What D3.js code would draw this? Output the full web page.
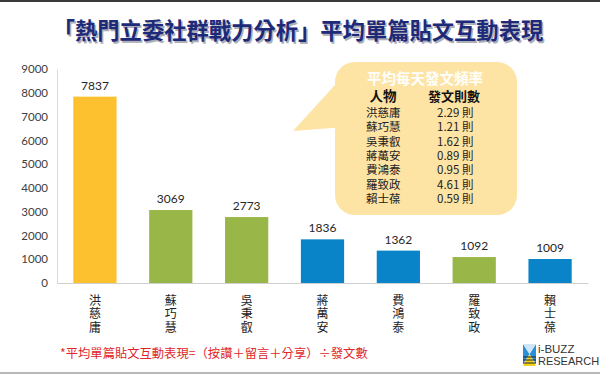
<!DOCTYPE html>
<html><head><meta charset="utf-8">
<script src="https://cdn.jsdelivr.net/npm/d3@7"></script>
<style>
body{margin:0;background:#fff;}
svg{display:block;}
</style></head>
<body>
<svg id="c" width="600" height="375"></svg>
<script>
const names = ["洪慈庸","蘇巧慧","吳秉叡","蔣萬安","費鴻泰","羅致政","賴士葆"];
const interactions = [7837,3069,2773,1836,1362,1092,1009];
const parties = ["時代力量","民進黨","民進黨","國民黨","國民黨","民進黨","國民黨"];
const dailyPosts = [2.29,1.21,1.62,0.89,0.95,4.61,0.59];
const yTicks = [0,1000,2000,3000,4000,5000,6000,7000,8000,9000];
const partyColors = {"時代力量":"#fdc02f","民進黨":"#98b748","國民黨":"#0a84c8"};

const svg = d3.select("#c");
const cjk = "'Noto Sans CJK TC','Noto Sans CJK SC',sans-serif";
const num = "Lato,'Open Sans',sans-serif";

// frame lines
svg.append("rect").attr("x",0).attr("y",0).attr("width",600).attr("height",2).attr("fill","#3a3a3a");
svg.append("rect").attr("x",0).attr("y",372).attr("width",600).attr("height",2).attr("fill","#b8b8b8");

// title with shadow
const title = "「熱門立委社群戰力分析」平均單篇貼文互動表現";
svg.append("text").attr("x",299.5).attr("y",40.5).attr("text-anchor","middle")
  .attr("font-family",cjk).attr("font-weight","bold").attr("font-size",22.3)
  .attr("fill","#9a9aa8").attr("opacity",0.8).text(title);
svg.append("text").attr("x",298).attr("y",39).attr("text-anchor","middle")
  .attr("font-family",cjk).attr("font-weight","bold").attr("font-size",22.3)
  .attr("fill","#1d2a7a").text(title);

const x = d3.scaleBand().domain(names).range([57,588]).paddingInner(0.43).paddingOuter(0.215);
const y = d3.scaleLinear().domain([0,9000]).range([283,69]);

// y axis
const ya = svg.append("g").attr("transform","translate(57,0)")
  .call(d3.axisLeft(y).tickValues(yTicks).tickSize(0).tickPadding(9).tickFormat(d3.format("d")));
ya.select(".domain").attr("stroke","#d9d9d9");
ya.selectAll("text").attr("font-family",num).attr("font-size",11.5).attr("fill","#404040");

// bars
svg.append("g").selectAll("rect").data(names).join("rect")
  .attr("x",d=>x(d)).attr("width",x.bandwidth())
  .attr("y",(d,i)=>y(interactions[i])).attr("height",(d,i)=>y(0)-y(interactions[i]))
  .attr("fill",(d,i)=>partyColors[parties[i]]);

// baseline / x axis
const xa = svg.append("g").attr("transform","translate(0,283)")
  .call(d3.axisBottom(x).tickSize(0).tickFormat(""));
xa.select(".domain").attr("stroke","#d0d0d0").attr("stroke-width",1.2);

// value labels
svg.append("g").selectAll("text").data(names).join("text")
  .attr("x",d=>x(d)+x.bandwidth()/2).attr("y",(d,i)=>y(interactions[i])-7)
  .attr("text-anchor","middle").attr("font-family",num).attr("font-size",12).attr("fill","#262626")
  .text((d,i)=>interactions[i]);

// vertical category labels
svg.append("g").selectAll("text").data(names).join("text")
  .attr("x",d=>x(d)+x.bandwidth()/2).attr("y",294)
  .style("writing-mode","vertical-rl").style("letter-spacing","1.8px")
  .attr("font-family",cjk).attr("font-size",12).attr("fill","#222").text(d=>d);

// callout bubble
const bub = svg.append("g");
bub.append("path").attr("d","M293,131 L345,74 L345,127 Z").attr("fill","#fde4a5");
bub.append("rect").attr("x",335).attr("y",62).attr("width",182).attr("height",153).attr("rx",20).attr("fill","#fde4a5");
bub.append("text").attr("x",425).attr("y",83.5).attr("text-anchor","middle")
  .attr("font-family",cjk).attr("font-weight","bold").attr("font-size",14.5).attr("fill","#fff").text("平均每天發文頻率");
bub.append("text").attr("x",383).attr("y",101).attr("text-anchor","middle")
  .attr("font-family",cjk).attr("font-weight","bold").attr("font-size",13.5).attr("fill","#111").text("人物");
bub.append("text").attr("x",454).attr("y",101).attr("text-anchor","middle")
  .attr("font-family",cjk).attr("font-weight","bold").attr("font-size",13).attr("fill","#111").text("發文則數");
const rowStep = 14.33;
const nameCol = bub.append("text").attr("x",366).attr("y",117).attr("font-family",cjk).attr("font-size",11.5).attr("fill","#222");
nameCol.selectAll("tspan").data(names).join("tspan").attr("x",366).attr("dy",(d,i)=>i?rowStep:0).text(d=>d);
const valCol = bub.append("text").attr("x",437).attr("y",117).attr("font-family",cjk).attr("font-size",11.5).attr("fill","#222");
valCol.selectAll("tspan").data(dailyPosts).join("tspan").attr("x",437).attr("dy",(d,i)=>i?rowStep:0).text(d=>d.toFixed(2)+" 則");

// footnote
svg.append("text").attr("x",60).attr("y",358).attr("font-family",cjk).attr("font-size",12.3).attr("fill","#e0262a")
  .text("*平均單篇貼文互動表現=（按讚＋留言＋分享）÷發文數");

// logo
const lg = svg.append("g").attr("transform","translate(523,342)");
lg.append("rect").attr("x",0).attr("y",0).attr("width",13).attr("height",24).attr("fill","#fff");
lg.append("path").attr("d","M0,2 L6.5,12 L0,22 Z").attr("fill","#2a8fd6");
lg.append("path").attr("d","M13,2 L6.5,12 L13,22 Z").attr("fill","#2a8fd6");
lg.append("path").attr("d","M0,2 L13,2 L6.5,12 Z").attr("fill","#cfe6f6");
lg.append("path").attr("d","M6.5,12 L13,24 L0,24 Z").attr("fill","#f4d21f");
[15,18,21].forEach(yy=>lg.append("line").attr("x1",0).attr("x2",13).attr("y1",yy).attr("y2",yy).attr("stroke","#222").attr("stroke-width",1));
svg.append("text").attr("x",538).attr("y",353).attr("font-family","'Liberation Sans',Arial,sans-serif").attr("font-size",11.5).attr("fill","#333").text("i-BUZZ");
svg.append("text").attr("x",538).attr("y",365).attr("font-family","'Liberation Sans',Arial,sans-serif").attr("font-size",11).attr("fill","#333").text("RESEARCH");
</script>
</body></html>
